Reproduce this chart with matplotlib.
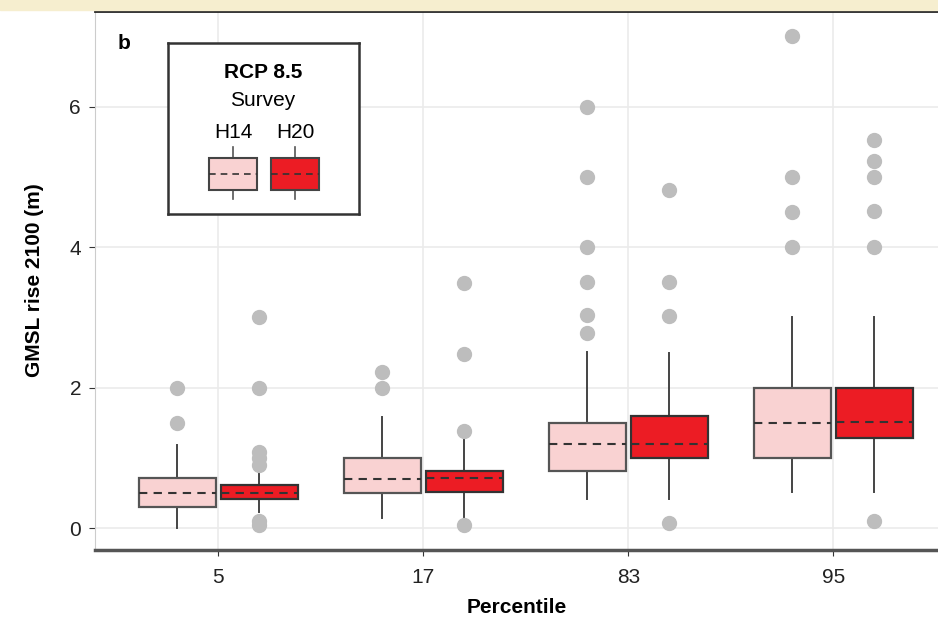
import matplotlib
matplotlib.use("Agg")
import matplotlib.pyplot as plt
from matplotlib.patches import Rectangle

plt.rcParams['font.family'] = ['Liberation Sans', 'DejaVu Sans']

# percentile groups shown on the x axis
percentiles = ["5", "17", "83", "95"]

# box stats per group: H14 survey
h14_q1 = [0.30, 0.50, 0.81, 1.00]
h14_med = [0.50, 0.70, 1.20, 1.50]
h14_q3 = [0.72, 1.00, 1.50, 2.00]
h14_wlo = [0.00, 0.15, 0.42, 0.51]
h14_whi = [1.19, 1.58, 2.51, 3.00]
h14_out = [
    [1.5, 2.0],
    [2.0, 2.22],
    [2.78, 3.03, 3.5, 4.0, 5.0, 6.0],
    [4.0, 4.5, 5.0, 7.0],
]

# box stats per group: H20 survey
h20_q1 = [0.42, 0.51, 1.00, 1.29]
h20_med = [0.50, 0.71, 1.20, 1.51]
h20_q3 = [0.61, 0.81, 1.60, 1.99]
h20_wlo = [0.23, 0.15, 0.42, 0.51]
h20_whi = [0.82, 1.30, 2.50, 3.00]
h20_out = [
    [0.05, 0.1, 0.9, 1.0, 1.08, 2.0, 3.0],
    [0.05, 1.38, 2.48, 3.49],
    [0.08, 3.02, 3.5, 4.81],
    [0.1, 4.0, 4.51, 5.0, 5.23, 5.52],
]

h14_fill = "#f9d2d2"
h20_fill = "#ec1c24"
out_col = "#bdbdbd"


def make_stats(q1, med, q3, wlo, whi, out):
    return [dict(q1=a, med=b, q3=c, whislo=d, whishi=e, fliers=f)
            for a, b, c, d, e, f in zip(q1, med, q3, wlo, whi, out)]


fig = plt.figure(figsize=(9.38, 6.38), dpi=100)
fig.patches.append(Rectangle((0, 0.984), 1, 0.016, transform=fig.transFigure,
                             color="#f6eecf", zorder=0))
ax = fig.add_axes([95 / 938, 88 / 638, 843 / 938, 539 / 638])

x = list(range(1, len(percentiles) + 1))
off = 0.2
width = 0.375

for stats, pos, fill, edge in [
    (make_stats(h14_q1, h14_med, h14_q3, h14_wlo, h14_whi, h14_out),
     [p - off for p in x], h14_fill, "#555555"),
    (make_stats(h20_q1, h20_med, h20_q3, h20_wlo, h20_whi, h20_out),
     [p + off for p in x], h20_fill, "#333333"),
]:
    bp = ax.bxp(stats, positions=pos, widths=width, patch_artist=True,
                showcaps=False, manage_ticks=False,
                boxprops=dict(facecolor=fill, edgecolor=edge, linewidth=1.6),
                whiskerprops=dict(color="#444444", linewidth=1.4),
                medianprops=dict(color="#333333", linewidth=1.5,
                                 linestyle=(0, (4, 3))),
                flierprops=dict(marker="o", markerfacecolor=out_col,
                                markeredgecolor=out_col, markersize=10))
    for b in bp["boxes"]:
        b.set_zorder(3)
    for m in bp["medians"]:
        m.set_zorder(4)

ax.set_xlim(0.4, 4.51)
ax.set_ylim(-0.31, 7.36)
ax.set_xticks(x)
ax.set_xticklabels(percentiles)
ax.set_yticks([0, 2, 4, 6])
ax.grid(True, color="#ebebeb", linewidth=1.2)
ax.set_axisbelow(True)
ax.tick_params(labelsize=15, length=4, color="#333333", labelcolor="#222222")
ax.tick_params(axis="x", pad=9)
ax.tick_params(axis="y", pad=6)

ax.spines["right"].set_visible(False)
ax.spines["top"].set_color("#222222")
ax.spines["top"].set_linewidth(2)
ax.spines["left"].set_color("#cccccc")
ax.spines["bottom"].set_color("#555555")
ax.spines["bottom"].set_linewidth(2.5)

ax.set_xlabel("Percentile", fontsize=15, fontweight="bold", labelpad=8)
ax.set_ylabel("GMSL rise 2100 (m)", fontsize=15, fontweight="bold", labelpad=18)
ax.text(0.035, 0.94, "b", transform=ax.transAxes, fontsize=15,
        fontweight="bold", ha="center", va="center")

# legend drawn as a small inset panel
lg = fig.add_axes([168 / 938, (638 - 214) / 638, 191 / 938, 171 / 638])
lg.set_xlim(0, 191)
lg.set_ylim(171, 0)
lg.set_xticks([])
lg.set_yticks([])
for s in lg.spines.values():
    s.set_color("#333333")
    s.set_linewidth(1.8)
lg.text(95, 30, "RCP 8.5", fontsize=15, fontweight="bold", ha="center", va="center")
lg.text(95, 58, "Survey", fontsize=15, ha="center", va="center")
lg.text(65, 90, "H14", fontsize=15, ha="center", va="center")
lg.text(127, 90, "H20", fontsize=15, ha="center", va="center")
for cx, fill in [(65, h14_fill), (127, h20_fill)]:
    lg.plot([cx, cx], [104, 156], color="#555555", lw=1.2, zorder=1)
    lg.add_patch(Rectangle((cx - 24, 115), 48, 32, facecolor=fill,
                           edgecolor="#444444", lw=1.5, zorder=2))
    lg.plot([cx - 24, cx + 24], [131, 131], color="#333333", lw=1.2,
            linestyle=(0, (4, 3)), zorder=3)

fig.savefig("out.png", dpi=100)
